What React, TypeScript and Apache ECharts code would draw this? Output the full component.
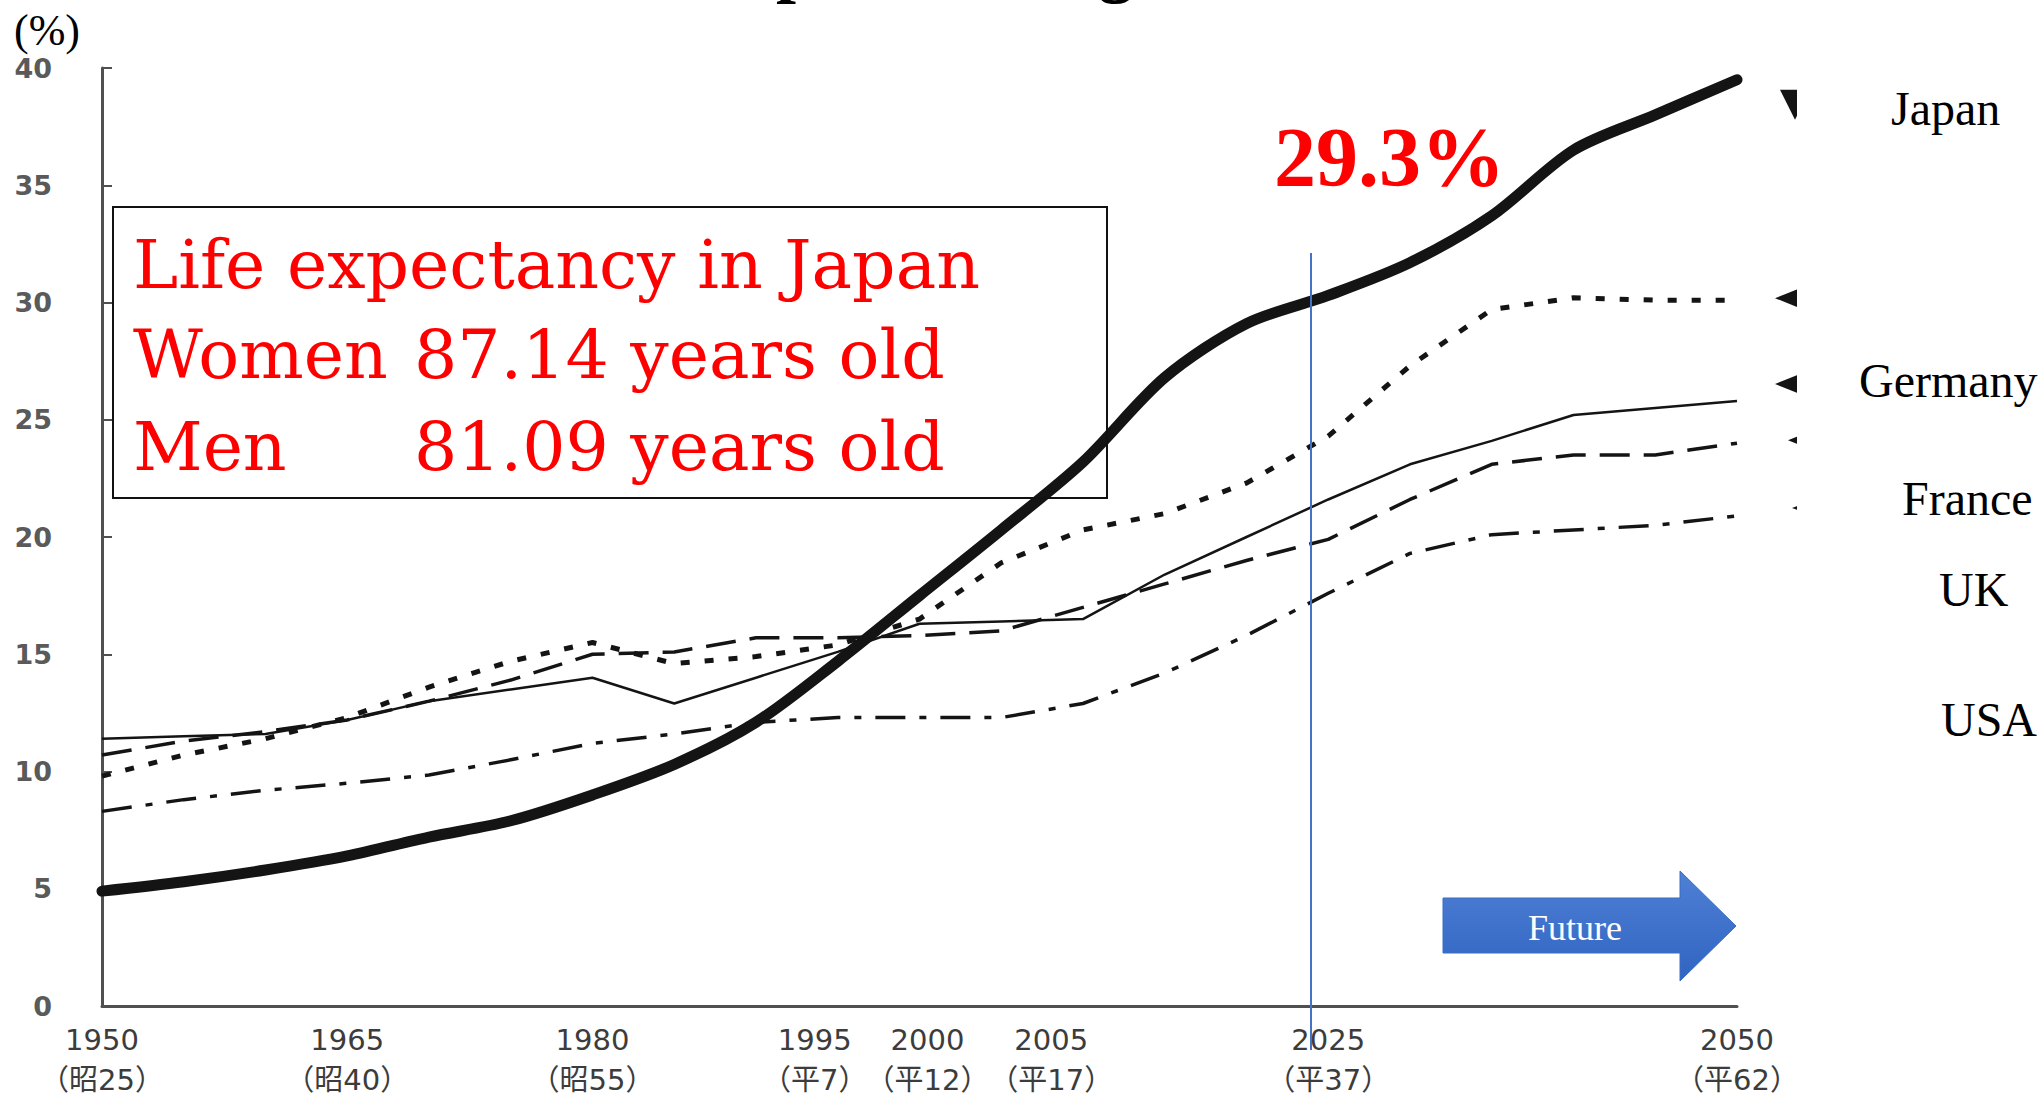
import { useEffect, useRef } from "react";
import * as echarts from "echarts";

// ---- data ----
const years = [1950, 1955, 1960, 1965, 1970, 1975, 1980, 1985, 1990, 1995, 2000, 2005, 2010, 2015, 2020, 2025, 2030, 2035, 2040, 2045, 2050];
const japan = [4.9, 5.3, 5.8, 6.4, 7.2, 7.9, 9.0, 10.3, 12.1, 14.7, 17.5, 20.3, 23.2, 26.8, 29.1, 30.3, 31.7, 33.7, 36.5, 38.0, 39.5];
const germany = [9.8, 10.7, 11.4, 12.3, 13.6, 14.7, 15.5, 14.6, 14.9, 15.4, 16.5, 18.9, 20.3, 21.0, 22.3, 24.3, 27.3, 29.7, 30.2, 30.1, 30.1];
const france = [11.4, 11.5, 11.6, 12.2, 13.0, 13.5, 14.0, 12.9, 14.0, 15.1, 16.3, 16.4, 16.5, 18.4, 20.0, 21.6, 23.1, 24.1, 25.2, 25.5, 25.8];
const uk = [10.7, 11.3, 11.7, 12.2, 13.0, 13.9, 15.0, 15.1, 15.7, 15.7, 15.8, 16.0, 17.0, 18.0, 19.0, 19.9, 21.6, 23.1, 23.5, 23.5, 24.0];
const usa = [8.3, 8.8, 9.2, 9.5, 9.85, 10.5, 11.2, 11.6, 12.1, 12.3, 12.3, 12.3, 12.9, 14.2, 15.8, 17.6, 19.3, 20.1, 20.3, 20.5, 20.9];

const xTickYears = [1950, 1965, 1980, 1995, 2000, 2005, 2025, 2050];
const xTickEras = ["（昭25）", "（昭40）", "（昭55）", "（平7）", "（平12）", "（平17）", "（平37）", "（平62）"];
const countryNames = ["Japan", "Germany", "France", "UK", "USA"];

const titleText = "Population Aged 65 and Over";
const unitText = "(%)";
const boxLines = ["Life expectancy in Japan", "Women", "87.14 years old", "Men", "81.09 years old"];
const highlightText = "29.3%";
const futureText = "Future";

// ---- styles (not data) ----
const labelNudge: Record<number, number> = { 1995: -23, 2000: 8, 2005: 50 };
const INK = "#141414";

export default function App() {
  const ref = useRef<HTMLDivElement>(null);
  useEffect(() => {
    document.body.style.margin = "0";
    const chart = echarts.init(ref.current!, undefined, { renderer: "svg" });

    const xFont = { fontFamily: "'DejaVu Sans', 'Noto Sans CJK JP'", fontSize: 29, color: "#3c3c3c", lineHeight: 40 };
    const rich: Record<string, any> = { n: { ...xFont } };
    Object.keys(labelNudge).forEach((k) => {
      const n = labelNudge[+k];
      rich["s" + k] = { ...xFont, padding: [0, n < 0 ? -2 * n : 0, 0, n > 0 ? 2 * n : 0] };
    });

    const seriesDefs = [
      { name: countryNames[0], data: japan, width: 11, type: "solid" as any, smooth: 0.3, mark: { rot: 180, size: [30, 30], off: [58, 25] } },
      { name: countryNames[1], data: germany, width: 5, type: [9, 15], smooth: false, mark: { rot: 90, size: [24, 30], off: [53, -2] } },
      { name: countryNames[2], data: france, width: 2.5, type: "solid", smooth: false, mark: { rot: 90, size: [24, 30], off: [53, -17] } },
      { name: countryNames[3], data: uk, width: 3.5, type: [30, 14], smooth: false, mark: { rot: 90, size: [16, 20], off: [61, -3] } },
      { name: countryNames[4], data: usa, width: 3.5, type: [30, 14, 7, 14], smooth: false, mark: { rot: 90, size: [12, 16], off: [63, -8] } },
    ];

    const series = seriesDefs.map((d, idx) => ({
      type: "line",
      name: d.name,
      data: years.map((y, i) => [y, d.data[i]]),
      showSymbol: false,
      smooth: d.smooth,
      z: 10 - idx,
      lineStyle: { color: INK, width: d.width, type: d.type, cap: idx === 0 ? "round" : "butt", join: "round" },
      markPoint: {
        silent: true,
        symbol: "triangle",
        symbolSize: d.mark.size,
        symbolRotate: d.mark.rot,
        symbolOffset: d.mark.off,
        itemStyle: { color: INK },
        label: { show: false },
        data: [{ coord: [years[years.length - 1], d.data[d.data.length - 1]] }],
      },
    }));

    const txt = (text: string, x: number, y: number, font: string, fill: string, align = "left", extra: any = {}) => ({
      type: "text",
      x,
      y,
      z: 100,
      silent: true,
      style: { text, font, fill, align, verticalAlign: "middle", textAlign: align, textVerticalAlign: "middle", ...extra },
    });

    const serif = "'Liberation Serif', 'Times New Roman', serif";
    const boxFont = `68px 'DejaVu Serif', serif`;
    const graphic: any[] = [
      txt(titleText, 696, -35, `bold 72px ${serif}`, "#000"),
      txt(unitText, 14, 30, `44px ${serif}`, "#000"),
      {
        type: "rect", z: 100, silent: true,
        shape: { x: 113, y: 207, width: 994, height: 291 },
        style: { fill: "none", stroke: "#111", lineWidth: 2 },
      },
      txt(boxLines[0], 133, 264, boxFont, "#ff0000"),
      txt(boxLines[1], 133, 354, boxFont, "#ff0000"),
      txt(boxLines[2], 414, 354, boxFont, "#ff0000"),
      txt(boxLines[3], 133, 446, boxFont, "#ff0000"),
      txt(boxLines[4], 414, 446, boxFont, "#ff0000"),
      txt(highlightText, 1274, 157, `bold 84px ${serif}`, "#ff0000"),
      {
        type: "line", z: 100, silent: true,
        shape: { x1: 1311, y1: 253, x2: 1311, y2: 1050 },
        style: { stroke: "#4472C4", lineWidth: 2 },
      },
      {
        type: "polygon", z: 100, silent: true,
        shape: { points: [[1443, 898], [1680, 898], [1680, 871], [1736, 926], [1680, 981], [1680, 953], [1443, 953]] },
        style: {
          fill: new echarts.graphic.LinearGradient(0, 0, 0, 1, [
            { offset: 0, color: "#4f80d6" },
            { offset: 1, color: "#3064c0" },
          ]),
          stroke: "#3a6cc4",
          lineWidth: 1,
        },
      },
      txt(futureText, 1575, 928, `36px ${serif}`, "#ffffff", "center"),
      {
        type: "rect", z: 99, silent: true,
        shape: { x: 1797, y: 40, width: 55, height: 540 },
        style: { fill: "#ffffff" },
      },
      txt(countryNames[0], 1891, 108, `48px ${serif}`, "#000"),
      txt(countryNames[1], 1859, 380, `48px ${serif}`, "#000"),
      txt(countryNames[2], 1902, 498, `48px ${serif}`, "#000"),
      txt(countryNames[3], 1939, 589, `48px ${serif}`, "#000"),
      txt(countryNames[4], 1941, 719, `48px ${serif}`, "#000"),
    ];

    const option: any = {
      animation: false,
      backgroundColor: "#ffffff",
      grid: { left: 102, right: 306, top: 68, bottom: 91, containLabel: false },
      xAxis: {
        type: "value",
        min: 1950,
        max: 2050,
        splitLine: { show: false },
        axisTick: { show: false },
        axisLine: { lineStyle: { color: "#505050", width: 3 } },
        axisLabel: {
          customValues: xTickYears,
          margin: 14,
          rich,
          formatter: (v: number) => {
            const i = xTickYears.indexOf(v);
            if (i < 0) return "";
            const key = labelNudge[v] !== undefined ? "s" + v : "n";
            return `{${key}|${v}}\n{${key}|${xTickEras[i]}}`;
          },
        },
      },
      yAxis: {
        type: "value",
        min: 0,
        max: 40,
        interval: 5,
        splitLine: { show: false },
        axisLine: { show: true, lineStyle: { color: "#505050", width: 3 } },
        axisTick: { show: true, inside: true, length: 10, lineStyle: { color: "#505050", width: 2 } },
        axisLabel: {
          margin: 50,
          fontFamily: "'DejaVu Sans'",
          fontWeight: "bold",
          fontSize: 27,
          color: "#5a5a5a",
        },
      },
      series,
      graphic,
    };
    chart.setOption(option);
    return () => chart.dispose();
  }, []);
  return <div ref={ref} style={{ width: 2043, height: 1097 }} />;
}
